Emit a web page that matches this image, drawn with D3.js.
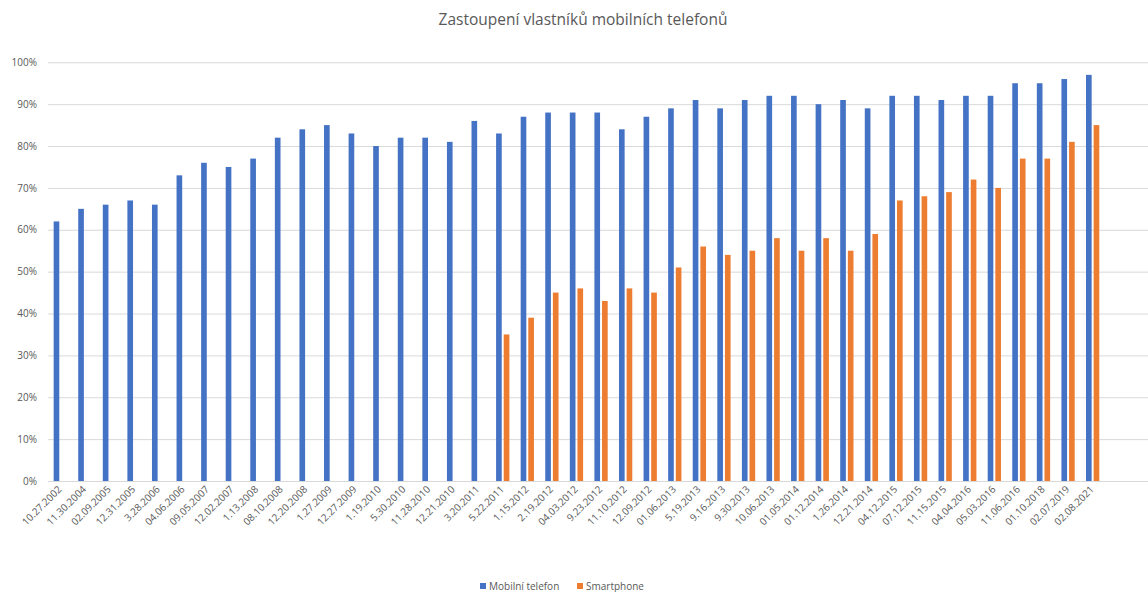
<!DOCTYPE html>
<html lang="cs">
<head>
<meta charset="utf-8">
<script src="https://cdn.jsdelivr.net/npm/d3@7"></script>
<title>Zastoupení vlastníků mobilních telefonů</title>
<style>
  body { margin: 0; background: #fff; }
  text { font-family: "Open Sans", "Noto Sans", sans-serif; fill: #595959; }
</style>
</head>
<body>
<div id="chart"></div>
<script>
// data (percent)
var dates = ["10.27.2002", "11.30.2004", "02.09.2005", "12.31.2005", "3.28.2006", "04.06.2006",
  "09.05.2007", "12.02.2007", "1.13.2008", "08.10.2008", "12.20.2008", "1.27.2009", "12.27.2009",
  "1.19.2010", "5.30.2010", "11.28.2010", "12.21.2010", "3.20.2011", "5.22.2011", "1.15.2012",
  "2.19.2012", "04.03.2012", "9.23.2012", "11.10.2012", "12.09.2012", "01.06.2013", "5.19.2013",
  "9.16.2013", "9.30.2013", "10.06.2013", "01.05.2014", "01.12.2014", "1.26.2014", "12.21.2014",
  "04.12.2015", "07.12.2015", "11.15.2015", "04.04.2016", "05.03.2016", "11.06.2016", "01.10.2018",
  "02.07.2019", "02.08.2021"];

var mobil = [62, 65, 66, 67, 66, 73, 76, 75, 77, 82, 84, 85, 83, 80, 82, 82, 81, 86, 83, 87,
  88, 88, 88, 84, 87, 89, 91, 89, 91, 92, 92, 90, 91, 89, 92, 92, 91, 92, 92, 95, 95, 96, 97];

var smart = [null, null, null, null, null, null, null, null, null, null, null, null, null, null,
  null, null, null, null, 35, 39, 45, 46, 43, 46, 45, 51, 56, 54, 55, 58, 55, 58, 55, 59, 67, 68,
  69, 72, 70, 77, 77, 81, 85];

var seriesNames = ["Mobilní telefon", "Smartphone"];
var seriesColors = ["#4472C4", "#ED7D31"];
var yTicks = [0, 10, 20, 30, 40, 50, 60, 70, 80, 90, 100];

var width = 1148, height = 592;
var slots = 45; // plot area has two empty slots on the right

var svg = d3.select("#chart").append("svg")
  .attr("width", width).attr("height", height);

var x = d3.scaleBand().domain(d3.range(slots)).range([48, 48 + slots * 24.58]);
var x1 = d3.scaleBand().domain([0, 1]).range([0, x.bandwidth()])
  .paddingInner(0.26).paddingOuter(0.74);
var y = d3.scaleLinear().domain([0, 100]).range([481, 62.3]);

// title
svg.append("text")
  .attr("x", 583).attr("y", 25)
  .attr("text-anchor", "middle")
  .style("font-size", "15.5px")
  .text("Zastoupení vlastníků mobilních telefonů");

// gridlines + y labels
var yAxis = d3.axisLeft(y).tickValues(yTicks).tickSize(0)
  .tickFormat(function (d) { return d + "%"; });
var gy = svg.append("g").attr("transform", "translate(48,0)").call(yAxis);
gy.select(".domain").remove();
gy.selectAll("text").attr("x", -11).style("font-size", "10px")
  .style("font-family", null);
gy.selectAll(".tick").append("line")
  .attr("x1", 0).attr("x2", width)
  .attr("stroke", "#d9d9d9").attr("stroke-width", 1);

// bars
var rows = dates.map(function (d, i) { return { i: i, v: [mobil[i], smart[i]] }; });
var groups = svg.append("g").selectAll("g").data(rows).enter().append("g")
  .attr("transform", function (d) { return "translate(" + x(d.i) + ",0)"; });
groups.selectAll("rect")
  .data(function (d) {
    return d.v.map(function (v, k) { return { k: k, v: v }; })
      .filter(function (e) { return e.v != null; });
  })
  .enter().append("rect")
  .attr("x", function (e) { return x1(e.k); })
  .attr("width", x1.bandwidth())
  .attr("y", function (e) { return y(e.v); })
  .attr("height", function (e) { return y(0) - y(e.v); })
  .attr("fill", function (e) { return seriesColors[e.k]; });

// x labels
svg.append("g").selectAll("text").data(dates).enter().append("text")
  .attr("text-anchor", "end")
  .attr("transform", function (d, i) {
    return "translate(" + (x(i) + x.bandwidth() / 2 + 2) + ",490) rotate(-45)";
  })
  .style("font-size", "10px")
  .text(function (d) { return d; });

// legend
var legendX = [480, 577];
var lg = svg.append("g").selectAll("g").data(seriesNames).enter().append("g")
  .attr("transform", function (d, i) { return "translate(" + legendX[i] + ",583)"; });
lg.append("rect").attr("width", 6).attr("height", 6)
  .attr("fill", function (d, i) { return seriesColors[i]; });
lg.append("text").attr("x", 9).attr("y", 7)
  .style("font-size", "10px")
  .text(function (d) { return d; });
</script>
</body>
</html>
